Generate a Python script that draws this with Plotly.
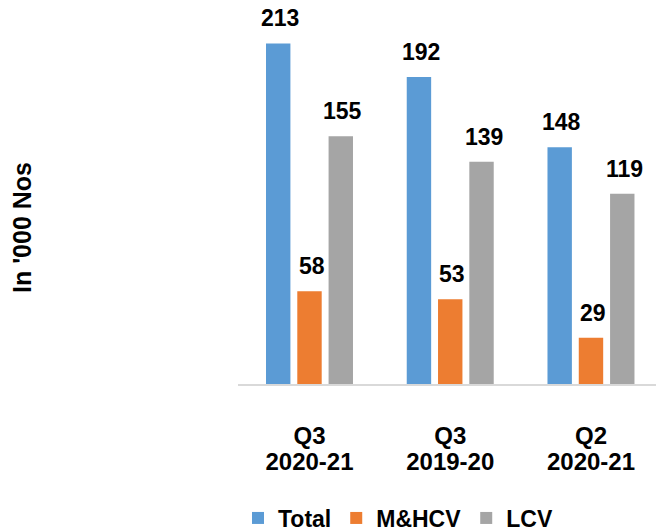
import plotly.graph_objects as go

categories = ["Q3<br>2020-21", "Q3<br>2019-20", "Q2<br>2020-21"]
quarters = ["Q3", "Q3", "Q2"]
years = ["2020-21", "2019-20", "2020-21"]
total = [213, 192, 148]
mhcv = [58, 53, 29]
lcv = [155, 139, 119]

FONT = "Arial, Liberation Sans, sans-serif"
series = [("Total", total, "#5B9BD5"), ("M&HCV", mhcv, "#ED7D31"), ("LCV", lcv, "#A5A5A5")]

W, H = 656, 532
ml, mr, mt, mb = 238, 0, 10, 148
pw = W - ml - mr
ph = H - mt - mb
xr = [-0.508, 2.462]
bargap, bargroupgap = 0.333, 0.22
pitch = pw / (xr[1] - xr[0])
slot = (1 - bargap) * pitch / len(series)

big = "<span style='font-size:24px'><b>{}</b></span>"
tick_text = [big.format(q) + "<br>" + big.format(y) for q, y in zip(quarters, years)]

fig = go.Figure()
for i, (name, vals, col) in enumerate(series):
    fig.add_trace(go.Bar(
        x=categories, y=vals, name=f"<b>{name}</b>", marker_color=col,
        marker_line_width=0,
    ))
    for c, v in zip(categories, vals):
        fig.add_annotation(
            x=c, y=v, xref="x", yref="y", text=f"<b>{v}</b>", showarrow=False,
            xshift=(i - 1) * slot + 2, yshift=25, yanchor="middle",
            font=dict(family=FONT, size=23, color="black"),
        )

fig.update_layout(
    width=W, height=H,
    margin=dict(l=ml, r=mr, t=mt, b=mb, autoexpand=False),
    barmode="group", bargap=bargap, bargroupgap=bargroupgap,
    plot_bgcolor="white", paper_bgcolor="white",
    font=dict(family=FONT, size=22, color="black"),
    showlegend=True,
    legend=dict(orientation="h", x=(398 - ml) / pw, xanchor="center", xref="paper",
                y=-(518 - (mt + ph)) / ph, yanchor="middle", yref="paper",
                font=dict(family=FONT, size=23, color="black"),
                itemwidth=30, tracegroupgap=0),
)
fig.update_xaxes(
    range=xr, showline=True, linecolor="#D9D9D9", linewidth=2,
    showgrid=False, ticks="", ticklabelstandoff=34,
    tickvals=categories, ticktext=tick_text,
    tickfont=dict(family=FONT, size=20, color="black"),
)
fig.update_yaxes(range=[0, ph / 1.599], showgrid=False, showticklabels=False,
                 zeroline=False, showline=False)
fig.add_annotation(
    text="<b>In '000 Nos</b>", textangle=-90, xref="paper", yref="paper",
    x=(22 - ml) / pw, xanchor="center", y=(mt + ph - 228) / ph, yanchor="middle",
    showarrow=False,
    font=dict(family=FONT, size=25, color="black"),
)
fig.write_html("out.html", config={"displayModeBar": False},
               post_script="document.body.style.margin='0';")
